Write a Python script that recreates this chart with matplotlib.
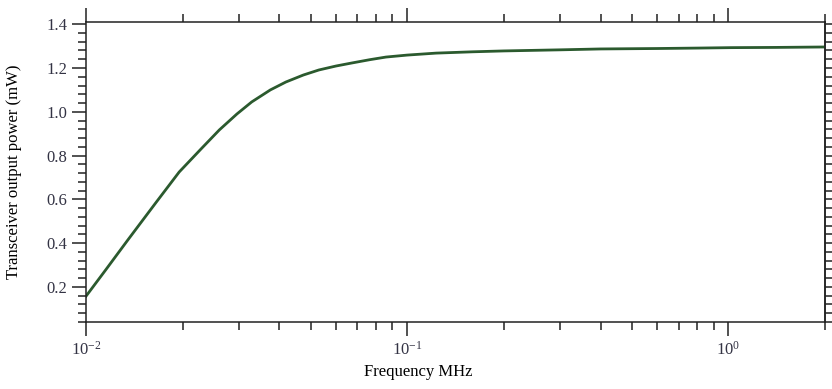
import matplotlib
matplotlib.use("Agg")
import matplotlib.pyplot as plt
import numpy as np
from matplotlib.ticker import LogLocator, MultipleLocator, NullFormatter

plt.rcParams['font.family'] = ['Liberation Serif', 'DejaVu Serif']
plt.rcParams['mathtext.fontset'] = 'stix'

# values
freq_mhz = [0.01, 0.0115, 0.0135, 0.0165, 0.0195, 0.0228, 0.026, 0.0295,
            0.0328, 0.0375, 0.0419, 0.0475, 0.0531, 0.06, 0.0673, 0.0765,
            0.0859, 0.1, 0.123, 0.16, 0.2, 0.3, 0.4, 0.6, 0.8, 1.02,
            1.4, 2.0]
power_mw = [0.158, 0.277, 0.415, 0.585, 0.725, 0.83, 0.917, 0.99,
            1.045, 1.10, 1.136, 1.168, 1.191, 1.209, 1.223, 1.238,
            1.250, 1.259, 1.268, 1.274, 1.278, 1.283, 1.287, 1.289, 1.291, 1.293,
            1.294, 1.296]

fig = plt.figure(figsize=(8.32, 3.89), dpi=100)
ax = fig.add_axes([0.1034, 0.1722, 0.8882, 0.7712])

ax.plot(freq_mhz, power_mw, color='#2b5a2e', lw=2)

ax.set_xscale('log')
ax.set_xlim(0.01, 2.0)
ax.set_ylim(0.04, 1.41)

ax.xaxis.set_major_locator(LogLocator(base=10))
ax.xaxis.set_minor_locator(LogLocator(base=10, subs=np.arange(2, 10)))
ax.xaxis.set_minor_formatter(NullFormatter())
ax.yaxis.set_major_locator(MultipleLocator(0.2))
ax.yaxis.set_minor_locator(MultipleLocator(0.04))
ax.yaxis.set_major_formatter(plt.FormatStrFormatter('%.1f'))

ax.tick_params(which='both', direction='out', top=True, right=False,
               color='#222222', width=1.1)
ax.tick_params(which='major', length=10, labelsize=12, labelcolor='#333344')
ax.tick_params(which='minor', length=6)

# right side: plain evenly spaced ticks, no labels
sec = ax.secondary_yaxis('right')
sec.yaxis.set_major_locator(MultipleLocator(0.04))
sec.yaxis.set_minor_locator(plt.NullLocator())
sec.tick_params(direction='out', length=6, width=1.1, color='#222222',
                labelright=False)
sec.spines['right'].set_linewidth(1.1)
sec.spines['right'].set_color('#222222')

for s in ax.spines.values():
    s.set_linewidth(1.1)
    s.set_color('#222222')

ax.set_xlabel('Frequency MHz', fontsize=12)
ax.set_ylabel('Transceiver output power (mW)', fontsize=12)
ax.xaxis.set_label_coords(0.449, -0.14)
ax.yaxis.set_label_coords(-0.087, 0.5)

fig.savefig('out.png', dpi=100)
